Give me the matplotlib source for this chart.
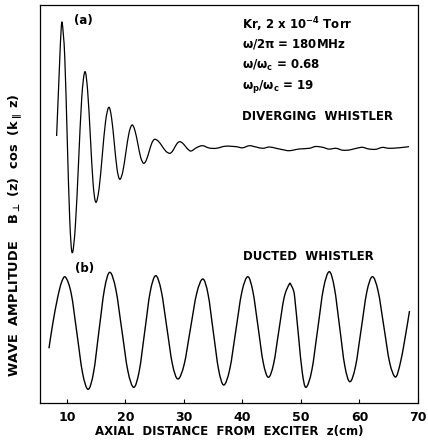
import matplotlib
matplotlib.use('Agg')
import matplotlib.pyplot as plt
from matplotlib.path import Path
from matplotlib.patches import PathPatch

# (a) diverging whistler (z in cm, amplitude in arbitrary units)
z_div = [8.24, 8.75, 9.0, 9.20, 9.63, 10.05, 10.48, 10.90, 11.44, 11.99, 12.53, 13.07,
         13.54, 14.01, 14.47, 14.94, 15.50, 16.05, 16.61, 17.16, 17.63, 18.10, 18.56,
         19.03, 19.56, 20.08, 20.61, 21.13, 21.63, 22.13, 22.62, 23.12, 23.59, 24.06,
         24.53, 25.00, 25.64, 26.28, 26.92, 27.56, 27.99, 28.41, 28.84, 29.26, 29.76,
         30.26, 30.75, 31.25, 32.2, 33.18, 34.3, 35.52, 37.1, 38.92, 40.0, 41.19, 42.3,
         43.46, 44.6, 45.74, 46.9, 48.01, 49.7, 51.42, 52.5, 53.69, 54.8, 55.97, 57.1,
         58.24, 59.4, 60.50, 61.6, 62.79, 63.9, 65.05, 66.7, 68.46]
a_div = [267, 340, 372, 379.7, 346.2, 265.0, 183.8, 150.3, 176.7, 240.8, 304.9, 331.3,
         312.2, 266.0, 219.8, 200.7, 214.6, 248.2, 281.8, 295.7, 285.2, 259.7, 234.2,
         223.7, 231.6, 250.9, 270.1, 278.0, 272.4, 258.9, 245.3, 239.7, 243.2, 251.7,
         260.2, 263.7, 261.7, 256.7, 251.7, 249.7, 251.4, 255.5, 259.6, 261.3, 259.9,
         256.6, 253.4, 252.0, 255.5, 257.3, 255.0, 254.7, 256.8, 256.3, 255.2, 257.3, 256.0,
         254.7, 256.0, 254.7, 253.3, 252.3, 254.0, 254.7, 256.5, 255.7, 253.9, 254.7, 252.8,
         253.0, 254.6, 255.7, 254.0, 253.7, 255.6, 254.7, 255.2, 256.3]

# (b) ducted whistler
z_duct = [6.93, 7.6, 8.4, 9.1, 9.78, 10.74, 11.71, 12.67, 13.63, 14.56, 15.48, 16.41,
          17.33, 18.35, 19.38, 20.40, 21.42, 22.36, 23.30, 24.23, 25.17, 26.12, 27.07,
          28.02, 28.97, 30.04, 31.10, 32.17, 33.23, 34.13, 35.02, 35.92, 36.81, 37.83,
          38.86, 39.88, 40.90, 41.78, 42.67, 43.55, 44.43, 45.33, 46.22, 47.12, 48.01,
          48.3, 48.69, 48.94, 49.58, 50.22, 50.86, 51.85, 52.85, 53.84, 54.83, 55.71,
          56.60, 57.48, 58.36, 59.32, 60.29, 61.25, 62.21, 63.19, 64.17, 65.15, 66.13,
          66.9, 67.7, 68.55]
a_duct = [54.7, 80, 105, 121, 125.7, 109.3, 69.7, 30.1, 13.7, 30.8, 72.2, 113.6,
          130.7, 113.9, 73.2, 32.5, 15.7, 32.0, 71.5, 111.0, 127.3, 112.2, 75.7,
          39.1, 24.0, 38.6, 74.0, 109.4, 124.0, 108.5, 71.0, 33.5, 18.0, 33.8,
          72.2, 110.5, 126.3, 111.6, 76.0, 40.4, 25.7, 39.3, 72.4, 105.4, 119.0,
          118.0, 113.0, 105.0, 66.9, 30.6, 15.7, 32.6, 73.5, 114.4, 131.3, 115.2,
          76.3, 37.4, 21.3, 36.6, 73.8, 111.0, 126.3, 111.7, 76.2, 40.6, 26.0,
          38.0, 62.0, 92.0]

x_ticks = [10, 20, 30, 40, 50, 60, 70]


def smooth_path(xs, ys):
    # catmull-rom through the read points, drawn as cubic bezier segments
    pts = list(zip(xs, ys))
    verts = [pts[0]]
    codes = [Path.MOVETO]
    n = len(pts)
    for i in range(n - 1):
        p0 = pts[max(i - 1, 0)]
        p1 = pts[i]
        p2 = pts[i + 1]
        p3 = pts[min(i + 2, n - 1)]
        c1 = (p1[0] + (p2[0] - p0[0]) / 6.0, p1[1] + (p2[1] - p0[1]) / 6.0)
        c2 = (p2[0] - (p3[0] - p1[0]) / 6.0, p2[1] - (p3[1] - p1[1]) / 6.0)
        verts += [c1, c2, p2]
        codes += [Path.CURVE4, Path.CURVE4, Path.CURVE4]
    return Path(verts, codes)


plt.rcParams['font.family'] = 'DejaVu Sans'
plt.rcParams['font.weight'] = 'bold'
plt.rcParams['mathtext.default'] = 'regular'

fig = plt.figure(figsize=(4.28, 4.42), dpi=100)
ax = fig.add_axes([40 / 428, 39 / 442, 378 / 428, 398 / 442])

ax.add_patch(PathPatch(smooth_path(z_div, a_div), facecolor='none', edgecolor='black', linewidth=0.9))
ax.add_patch(PathPatch(smooth_path(z_duct, a_duct), facecolor='none', edgecolor='black', linewidth=1.0))

ax.set_xlim(5.4, 70)
ax.set_ylim(0, 398)
ax.set_xticks(x_ticks)
ax.set_yticks([])
ax.tick_params(axis='x', direction='in', length=3, width=0.8, pad=5.5, labelsize=9)
for lab in ax.get_xticklabels():
    lab.set_fontweight('bold')
for sp in ax.spines.values():
    sp.set_linewidth(0.9)

kw = dict(transform=ax.transAxes, fontsize=8.5, fontweight='bold', va='center', ha='left')
ax.text(0.534, 0.950, r'Kr, 2 x 10$^{-4}$ Torr', **kw)
ax.text(0.534, 0.902, r'$\omega/2\pi$ = 180MHz', **kw)
ax.text(0.534, 0.849, r'$\omega/\omega_c$ = 0.68', **kw)
ax.text(0.534, 0.794, r'$\omega_p/\omega_c$ = 19', **kw)
ax.text(0.534, 0.721, 'DIVERGING  WHISTLER', **kw)
ax.text(0.537, 0.367, 'DUCTED  WHISTLER', **kw)
ax.text(0.114, 0.962, '(a)', transform=ax.transAxes, fontsize=8.5, fontweight='bold', ha='center', va='center')
ax.text(0.119, 0.337, '(b)', transform=ax.transAxes, fontsize=8.5, fontweight='bold', ha='center', va='center')

fig.text(229 / 428, 10 / 442, 'AXIAL  DISTANCE  FROM  EXCITER  z(cm)',
         fontsize=8.5, fontweight='bold', ha='center', va='center')
fig.text(15 / 428, (442 - 235.5) / 442,
         r'WAVE  AMPLITUDE    B$_{\bot}$ (z)  cos  (k$_{\parallel}$ z)',
         fontsize=9.3, fontweight='bold', rotation=90, ha='center', va='center')

fig.savefig('out.png', dpi=100)
